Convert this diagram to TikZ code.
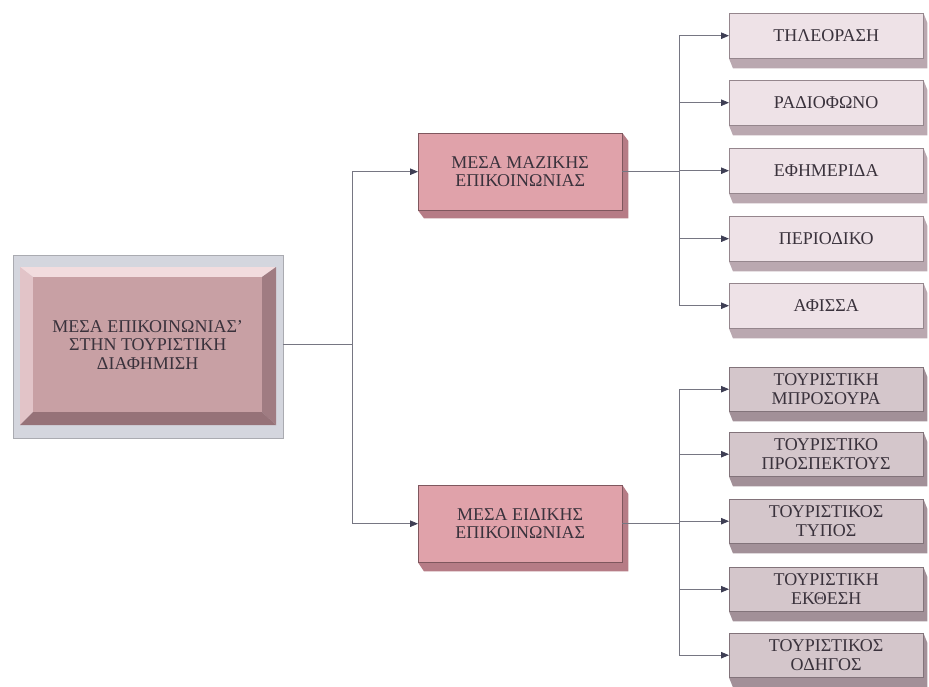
\documentclass[tikz,border=0pt]{standalone}
\usepackage{fontspec}
\setmainfont{Liberation Serif}
\usetikzlibrary{calc,arrows.meta,backgrounds}
\definecolor{linegray}{RGB}{118,118,130}
\definecolor{tipgray}{RGB}{62,62,84}
\definecolor{txt}{RGB}{58,50,60}
\definecolor{framegray}{RGB}{212,214,222}
\definecolor{rootface}{RGB}{200,160,164}
\definecolor{roothi}{RGB}{242,220,222}
\definecolor{rootlt}{RGB}{226,196,200}
\definecolor{rootdk}{RGB}{160,124,130}
\definecolor{rootdkb}{RGB}{150,114,120}
\definecolor{midface}{RGB}{224,162,170}
\definecolor{middepth}{RGB}{182,124,134}
\definecolor{topface}{RGB}{238,226,231}
\definecolor{topdepth}{RGB}{186,168,176}
\definecolor{botface}{RGB}{212,198,203}
\definecolor{botdepth}{RGB}{162,144,152}
\tikzset{
  x=1pt, y=-1pt,
  lbl/.style={font=\fontsize{18}{18.5}\selectfont, text=txt, align=center,
              inner sep=0pt, anchor=north west},
  midbox/.style={lbl, fill=midface, draw=middepth!70!black, line width=0.4pt,
                 minimum width=204pt, minimum height=77pt},
  topbox/.style={lbl, fill=topface, draw=topdepth!80!black, line width=0.4pt,
                 minimum width=194pt, minimum height=45pt},
  botbox/.style={lbl, fill=botface, draw=botdepth!80!black, line width=0.4pt,
                 minimum width=194pt, minimum height=44pt},
  conn/.style={draw=linegray, line width=0.8pt},
  arr/.style={conn, -{Triangle[length=8pt,width=6.5pt,color=tipgray]}},
}
% extruded depth behind a box: offset (#2,#3) towards bottom-right
\newcommand{\depthof}[4]{%
  \fill[#4] (#1.north east) -- ++(#2,#3) -- ($(#1.south east)+(#2,#3)$)
     -- ($(#1.south west)+(#2,#3)$) -- (#1.south west) -- (#1.south east) -- cycle;}
\begin{document}
\begin{tikzpicture}
\useasboundingbox (0,0) rectangle (929,686);

% root: framed bevelled panel
\fill[framegray] (13,255) rectangle (283,438);
\draw[framegray!80!black, line width=0.4pt] (13,255) rectangle (283,438);
\fill[roothi]  (20,267) -- (276,267) -- (262,277) -- (33,277) -- cycle;
\fill[rootlt]  (20,267) -- (33,277) -- (33,412) -- (20,425) -- cycle;
\fill[rootdk]  (276,267) -- (276,425) -- (262,412) -- (262,277) -- cycle;
\fill[rootdkb] (20,425) -- (276,425) -- (262,412) -- (33,412) -- cycle;
\node[lbl, fill=rootface, minimum width=229pt, minimum height=135pt,
      anchor=north west] (root) at (33,277)
  {ΜΕΣΑ ΕΠΙΚΟΙΝΩΝΙΑΣ’\\ΣΤΗΝ ΤΟΥΡΙΣΤΙΚΗ\\ΔΙΑΦΗΜΙΣΗ};

% second level
\node[midbox] (mass) at (418,133) {ΜΕΣΑ ΜΑΖΙΚΗΣ\\ΕΠΙΚΟΙΝΩΝΙΑΣ};
\node[midbox] (spec) at (418,485) {ΜΕΣΑ ΕΙΔΙΚΗΣ\\ΕΠΙΚΟΙΝΩΝΙΑΣ};

% third level, mass media
\node[topbox] (tv)  at (729,13)  {ΤΗΛΕΟΡΑΣΗ};
\node[topbox] (rad) at (729,80)  {ΡΑΔΙΟΦΩΝΟ};
\node[topbox] (eph) at (729,148) {ΕΦΗΜΕΡΙΔΑ};
\node[topbox] (per) at (729,216) {ΠΕΡΙΟΔΙΚΟ};
\node[topbox] (afi) at (729,283) {ΑΦΙΣΣΑ};

% third level, special media
\node[botbox] (bro) at (729,367) {ΤΟΥΡΙΣΤΙΚΗ\\ΜΠΡΟΣΟΥΡΑ};
\node[botbox] (pro) at (729,432) {ΤΟΥΡΙΣΤΙΚΟ\\ΠΡΟΣΠΕΚΤΟΥΣ};
\node[botbox] (typ) at (729,499) {ΤΟΥΡΙΣΤΙΚΟΣ\\ΤΥΠΟΣ};
\node[botbox] (ekt) at (729,567) {ΤΟΥΡΙΣΤΙΚΗ\\ΕΚΘΕΣΗ};
\node[botbox] (odi) at (729,633) {ΤΟΥΡΙΣΤΙΚΟΣ\\ΟΔΗΓΟΣ};

% extrusions, behind the faces
\begin{scope}[on background layer]
\depthof{mass}{6}{8}{middepth}
\depthof{spec}{6}{9}{middepth}
\foreach \b in {tv,rad,eph,per,afi}{\depthof{\b}{4}{10}{topdepth}}
\foreach \b in {bro,pro,typ,ekt,odi}{\depthof{\b}{4}{10}{botdepth}}
\end{scope}

% connectors
\coordinate (j1) at (352,0);
\coordinate (j2) at (679,0);
\draw[conn] (root.east -| 283,0) -- (j1 |- root.east);
\draw[arr] (j1 |- mass.west) -- (mass.west);
\draw[arr] (j1 |- spec.west) -- (spec.west);
\draw[conn] (j1 |- mass.west) -- (j1 |- spec.west);

\draw[conn] (mass.east) -- (j2 |- mass.east);
\draw[conn] (j2 |- tv.west) -- (j2 |- afi.west);
\foreach \b in {tv,rad,eph,per,afi}{\draw[arr] (j2 |- \b.west) -- (\b.west);}

\draw[conn] (spec.east) -- (j2 |- spec.east);
\draw[conn] (j2 |- bro.west) -- (j2 |- odi.west);
\foreach \b in {bro,pro,typ,ekt,odi}{\draw[arr] (j2 |- \b.west) -- (\b.west);}
\end{tikzpicture}
\end{document}
